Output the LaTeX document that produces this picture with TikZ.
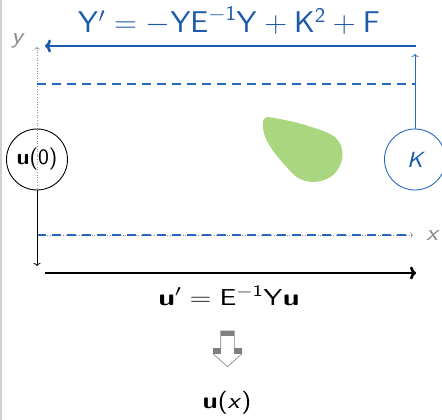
\documentclass[tikz,border=0pt]{standalone}
\usepackage{fix-cm}
\usepackage{graphicx}
\usetikzlibrary{arrows.meta}
\definecolor{tblue}{RGB}{28,90,170}
\definecolor{dblue}{RGB}{40,105,190}
\definecolor{tgreen}{RGB}{170,214,128}
\definecolor{tgray}{RGB}{140,140,140}
\definecolor{agray}{RGB}{128,128,128}
\newcommand{\bu}{\mbox{\bfseries u}}
\begin{document}
\begin{tikzpicture}[x=1pt,y=-1pt,
  lbl/.style={font=\sffamily\fontsize{23}{27}\selectfont, inner sep=0pt},
  circ/.style={circle, draw, minimum size=61pt, inner sep=0pt, line width=0.9pt,
    font=\sffamily\fontsize{22}{26}\selectfont},
  bigarrow/.style={line width=2.6pt, -{To[length=6pt,width=13pt]}},
  thinarrow/.style={line width=0.8pt, -{To[length=3pt,width=7pt]}},
  axis/.style={tgray, line width=0.6pt, dotted, -{To[length=2.5pt,width=6pt]}},
  bluedash/.style={dblue, line width=1.9pt, dash pattern=on 9pt off 6pt}]
\useasboundingbox (0,0) rectangle (442,420);
\draw[black!18, line width=1.5pt] (0.75,0) -- (0.75,420);

% green blob
\fill[tgreen] (268,117) .. controls (290,120) and (315,127) .. (330,134)
  .. controls (345,141) and (346,160) .. (336,172)
  .. controls (326,184) and (304,186) .. (292,173)
  .. controls (278,158) and (264,142) .. (263,128)
  .. controls (262,120) and (264,117) .. (268,117) -- cycle;

% coordinates
\coordinate (O) at (37,235);
\coordinate (ytop) at (37,47);
\coordinate (xend) at (413,235);
\coordinate (dl) at (37,84);
\coordinate (dr) at (415,84);
\coordinate (xl) at (37,235);
\coordinate (xr) at (409,235);
\coordinate (ta) at (416,46);
\coordinate (tb) at (45,46);
\coordinate (ba) at (45,273);
\coordinate (bb) at (416,273);
\coordinate (kend) at (415,54);
\coordinate (uend) at (37,266);

% axes
\draw[axis] (O) -- (ytop);
\draw[axis] (O) -- (xend);
\node[lbl, text=tgray] (ylab) at (17,41) {\scalebox{1.15}[1]{\itshape y}};
\node[lbl, text=tgray] (xlab) at (432,236) {\scalebox{1.15}[1]{\itshape x}};

% dashed lines
\draw[bluedash] (dl) -- (dr);
\draw[bluedash] (xl) -- (xr);

% circles
\node[circ] (u0) at (37,159.5) {\scalebox{1.05}[1]{\textbf{u}(0)}};
\node[circ, draw=dblue, text=tblue] (K) at (415,159.5) {\scalebox{1.1}[1]{\itshape K}};

% arrows
\draw[thinarrow, dblue] (K.north) -- (kend);
\draw[thinarrow] (u0.south) -- (uend);
\draw[bigarrow, tblue] (ta) -- (tb);
\draw[bigarrow] (ba) -- (bb);

% labels
\node[lbl, text=tblue, font=\sffamily\fontsize{30}{34}\selectfont] (title) at (229,21)
  {\scalebox{1.06}[1]{$\mathsf{Y}' = -\mathsf{YE}^{-\mathsf{1}}\mathsf{Y} + \mathsf{K}^{\mathsf{2}} + \mathsf{F}$}};
\node[lbl] (eq) at (229,296) {\scalebox{1.3}[1]{$\bu' = \mathsf{E}^{-\mathsf{1}}\mathsf{Y}\bu$}};
\node[lbl] (ux) at (227,403) {\scalebox{1.18}[1]{\textbf{u}(\textit{x}\/)}};

% hollow down arrow
\fill[agray] (220.7,331) rectangle (234.3,335.7);
\fill[agray] (213.3,348.3) rectangle (220.7,354);
\fill[agray] (234.3,348.3) rectangle (241.7,354);
\draw[agray, line width=0.6pt, line join=miter]
  (220.7,331) -- (234.3,331) -- (234.3,348.3) -- (241.7,348.3) -- (241.7,354)
  -- (227.5,366.7) -- (213.3,354) -- (213.3,348.3) -- (220.7,348.3) -- cycle;
\end{tikzpicture}
\end{document}
